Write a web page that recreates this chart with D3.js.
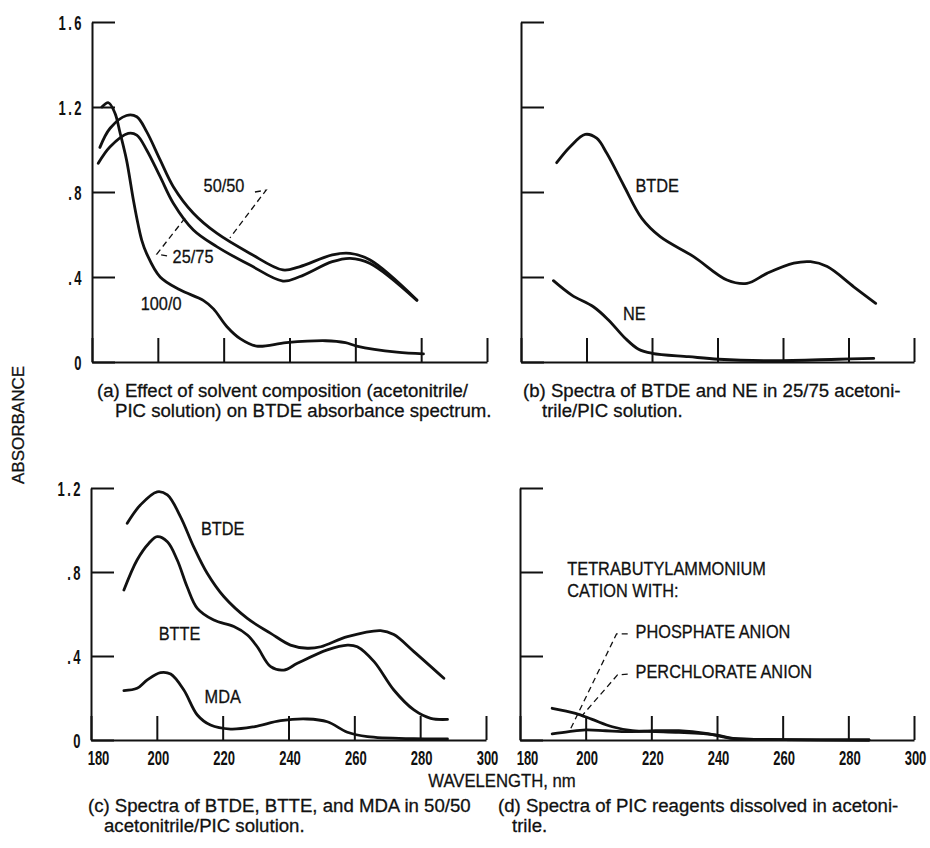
<!DOCTYPE html>
<html>
<head>
<meta charset="utf-8">
<title>Absorbance spectra</title>
<style>
	body{ margin:0; background:#fff; }
	svg text{ font-family:"Liberation Sans", Arial, sans-serif; fill:#111; }
</style>
</head>
<body>
<div id="chart"></div>
<script src="https://d3js.org/d3.v7.min.js"></script>
<script type="text/javascript">

// wavelength (nm), absorbance
var a_100_0 = [[183,1.20],[185,1.22],[187,1.17],[188.5,1.08],[190.5,0.95],[192.6,0.76],[194.1,0.64],[195.1,0.574],[196.6,0.51],[200.7,0.40],[206.7,0.34],[213.8,0.29],[216.9,0.25],[221,0.166],[225,0.11],[230,0.075],[239,0.091],[251,0.10],[257,0.091],[260.4,0.075],[272.6,0.046],[280.7,0.038]],
	a_50_50 = [[182.4,1.01],[185.5,1.10],[190.5,1.16],[193.6,1.154],[196.6,1.084],[200.7,0.951],[204.7,0.825],[210.8,0.70],[217.9,0.606],[228,0.511],[238,0.433],[243,0.448],[253,0.504],[258.4,0.511],[264.5,0.48],[278.7,0.292]],
	a_25_75 = [[181.9,0.935],[185.5,1.013],[191,1.076],[193.6,1.068],[196.6,0.998],[200.7,0.872],[204.7,0.747],[210.8,0.621],[217.9,0.543],[228,0.456],[238,0.381],[243,0.401],[253,0.472],[258.4,0.488],[264.5,0.464],[278.7,0.29]];

var b_btde = [[190.9,0.938],[195,1.013],[199.6,1.071],[203.1,1.053],[206.2,0.982],[211.3,0.833],[216.9,0.676],[222.5,0.59],[232.7,0.496],[242.9,0.386],[249,0.37],[255.1,0.417],[263.3,0.465],[268.4,0.472],[273.5,0.449],[281.6,0.354],[288.3,0.276]],
	b_ne = [[189.9,0.383],[195.5,0.315],[202.1,0.26],[206.7,0.198],[211.8,0.112],[215.9,0.06],[220,0.041],[231.2,0.025],[240.4,0.013],[256.6,0.006],[277,0.013],[287.7,0.017]];

var c_btde = [[191,1.032],[195,1.119],[200.1,1.182],[203.2,1.167],[207.2,1.063],[211.2,0.92],[215.3,0.794],[220.4,0.682],[227.5,0.579],[234.6,0.508],[240.6,0.452],[245.7,0.437],[249.8,0.444],[257.9,0.492],[268,0.521],[272,0.502],[278.1,0.421],[287.2,0.294]],
	c_btte = [[190,0.714],[194,0.857],[197.6,0.937],[200.1,0.968],[203.2,0.944],[206.2,0.857],[209.2,0.73],[212.3,0.627],[217.3,0.571],[223.4,0.54],[227.5,0.50],[230.5,0.444],[234.6,0.349],[238.6,0.333],[242.7,0.365],[251.8,0.429],[257.9,0.452],[260.9,0.444],[266,0.373],[272,0.238],[278.1,0.143],[283.2,0.103],[288.3,0.098]],
	c_mda = [[190,0.235],[194,0.246],[197.1,0.286],[201.1,0.321],[204.2,0.314],[208.2,0.238],[212.3,0.119],[216.3,0.071],[222.4,0.052],[229.5,0.063],[237.6,0.092],[245.7,0.10],[251.8,0.087],[257.9,0.037],[264,0.016],[278.1,0.006],[288.3,0.005]];

var d_perchlorate = [[189.8,0.151],[196.9,0.127],[202,0.098],[208.1,0.063],[214.2,0.044],[221.3,0.04],[228.4,0.036],[239.6,0.024],[245.7,0.006],[260,0.002],[286.3,0.0]],
	d_phosphate = [[189.8,0.029],[194.9,0.04],[200,0.048],[206.1,0.044],[213.2,0.04],[221.3,0.044],[228.4,0.044],[236.6,0.032],[244.7,0.008],[260,0.002],[286.3,0.0]];

var xTicks = [180,200,220,240,260,280,300],
	yTicksTop = [0,0.4,0.8,1.2,1.6],
	yTicksBottom = [0,0.4,0.8,1.2],
	yTickText = {0:"0",0.4:".4",0.8:".8",1.2:"1.2",1.6:"1.6"};

// curve labels [text, wavelength, absorbance]
var a_labels = [["50/50",220.1,0.80],["25/75",210.7,0.465],["100/0",201,0.245]],
	b_labels = [["BTDE",221.6,0.80],["NE",214.6,0.198]],
	c_labels = [["BTDE",220,0.975],["BTTE",206.9,0.475],["MDA",220,0.175]],
	d_labels = [["TETRABUTYLAMMONIUM",194.4,0.785],["CATION WITH:",194.4,0.68],["PHOSPHATE ANION",215.2,0.485],["PERCHLORATE ANION",215.2,0.295]];

// dashed leaders in data units
var a_leaders = [[[229.5,0.80],[232.9,0.809],[221.9,0.584]],[[202.8,0.499],[199.7,0.508],[208.3,0.678]]],
	d_leaders = [[[212.8,0.505],[209.4,0.505],[195.1,0.043]],[[212.8,0.314],[209.7,0.31],[198.8,0.114]]];

var captions = [
	[97,397,"(a) Effect of solvent composition (acetonitrile/"],
	[115,417,"PIC solution) on BTDE absorbance spectrum."],
	[523,397,"(b) Spectra of BTDE and NE in 25/75 acetoni-"],
	[542,417,"trile/PIC solution."],
	[88,812,"(c) Spectra of BTDE, BTTE, and MDA in 50/50"],
	[104,832,"acetonitrile/PIC solution."],
	[498,812,"(d) Spectra of PIC reagents dissolved in acetoni-"],
	[512,832,"trile."]
];

var svg = d3.select('#chart').append('svg').attr('width',930).attr('height',848);

var panels = [
	{xr:[92,487], yr:[362,22], ymax:1.6, yt:yTicksTop, ylab:true, xlab:false, series:[a_100_0,a_50_50,a_25_75], labels:a_labels, leaders:a_leaders},
	{xr:[521,914], yr:[362,22], ymax:1.6, yt:yTicksTop, ylab:false, xlab:false, series:[b_btde,b_ne], labels:b_labels, leaders:[]},
	{xr:[91,486], yr:[740,488], ymax:1.2, yt:yTicksBottom, ylab:true, xlab:true, series:[c_btde,c_btte,c_mda], labels:c_labels, leaders:[]},
	{xr:[520,914], yr:[740,488], ymax:1.2, yt:yTicksBottom, ylab:false, xlab:true, series:[d_perchlorate,d_phosphate], labels:d_labels, leaders:d_leaders}
];

panels.forEach(function(p){
	var x = d3.scaleLinear().domain([180,300]).range(p.xr),
		y = d3.scaleLinear().domain([0,p.ymax]).range(p.yr),
		g = svg.append('g');

	var xa = g.append('g').attr('transform','translate(0,'+p.yr[0]+')')
		.call(d3.axisBottom(x).tickValues(xTicks).tickSizeInner(-24).tickSizeOuter(0).tickPadding(0)
			.tickFormat(p.xlab ? d3.format('d') : ''));
	xa.selectAll('.tick text')
		.attr('y',0).attr('dy',null)
		.attr('transform', function(d){ return 'translate('+(d==180 ? 7 : 1)+',25) scale(0.62,1)'; })
		.style('font-size','21px').style('font-weight','bold');

	var ya = g.append('g').attr('transform','translate('+p.xr[0]+',0)')
		.call(d3.axisLeft(y).tickValues(p.yt).tickSizeInner(-23).tickSizeOuter(0).tickPadding(0)
			.tickFormat(p.ylab ? function(d){ return yTickText[d]; } : ''));
	ya.selectAll('.tick text')
		.attr('x',0).attr('dy',null)
		.attr('transform','translate(-8,7) scale(0.62,1)')
		.style('font-size','21px').style('font-weight','bold').style('letter-spacing','4px');

	g.selectAll('.domain, .tick line').attr('stroke','#111').attr('stroke-width',2);

	var line = d3.line().x(function(d){ return x(d[0]); }).y(function(d){ return y(d[1]); })
		.curve(d3.curveCatmullRom.alpha(0.5));

	g.selectAll('path.spec').data(p.series).enter().append('path')
		.attr('class','spec')
		.attr('d', line)
		.attr('fill','none').attr('stroke','#111').attr('stroke-width',2.8)
		.attr('stroke-linejoin','round').attr('stroke-linecap','round');

	var lead = d3.line().x(function(d){ return x(d[0]); }).y(function(d){ return y(d[1]); });
	g.selectAll('path.lead').data(p.leaders).enter().append('path')
		.attr('class','lead')
		.attr('d', lead)
		.attr('fill','none').attr('stroke','#111').attr('stroke-width',1.3)
		.attr('stroke-dasharray','6,4');

	g.selectAll('text.lbl').data(p.labels).enter().append('text')
		.attr('class','lbl')
		.attr('transform', function(d){ return 'translate('+x(d[1])+','+y(d[2])+') scale(0.86,1)'; })
		.attr('text-anchor', function(d){ return d[0].length > 5 ? 'start' : 'middle'; })
		.style('font-size','19px')
		.style('stroke','#111').style('stroke-width',0.3)
		.text(function(d){ return d[0]; });
});

svg.append('text')
	.attr('transform','translate(24,425) rotate(-90)')
	.attr('text-anchor','middle')
	.style('font-size','17px')
	.style('stroke','#111').style('stroke-width',0.3)
	.text('ABSORBANCE');

svg.append('text')
	.attr('transform','translate(502,787) scale(0.88,1)')
	.attr('text-anchor','middle')
	.style('font-size','19px')
	.style('stroke','#111').style('stroke-width',0.3)
	.text('WAVELENGTH, nm');

svg.selectAll('text.cap').data(captions).enter().append('text')
	.attr('class','cap')
	.attr('transform', function(d){ return 'translate('+d[0]+','+d[1]+') scale(0.98,1)'; })
	.style('font-size','19px')
	.style('stroke','#111').style('stroke-width',0.3)
	.text(function(d){ return d[2]; });

</script>
</body>
</html>
